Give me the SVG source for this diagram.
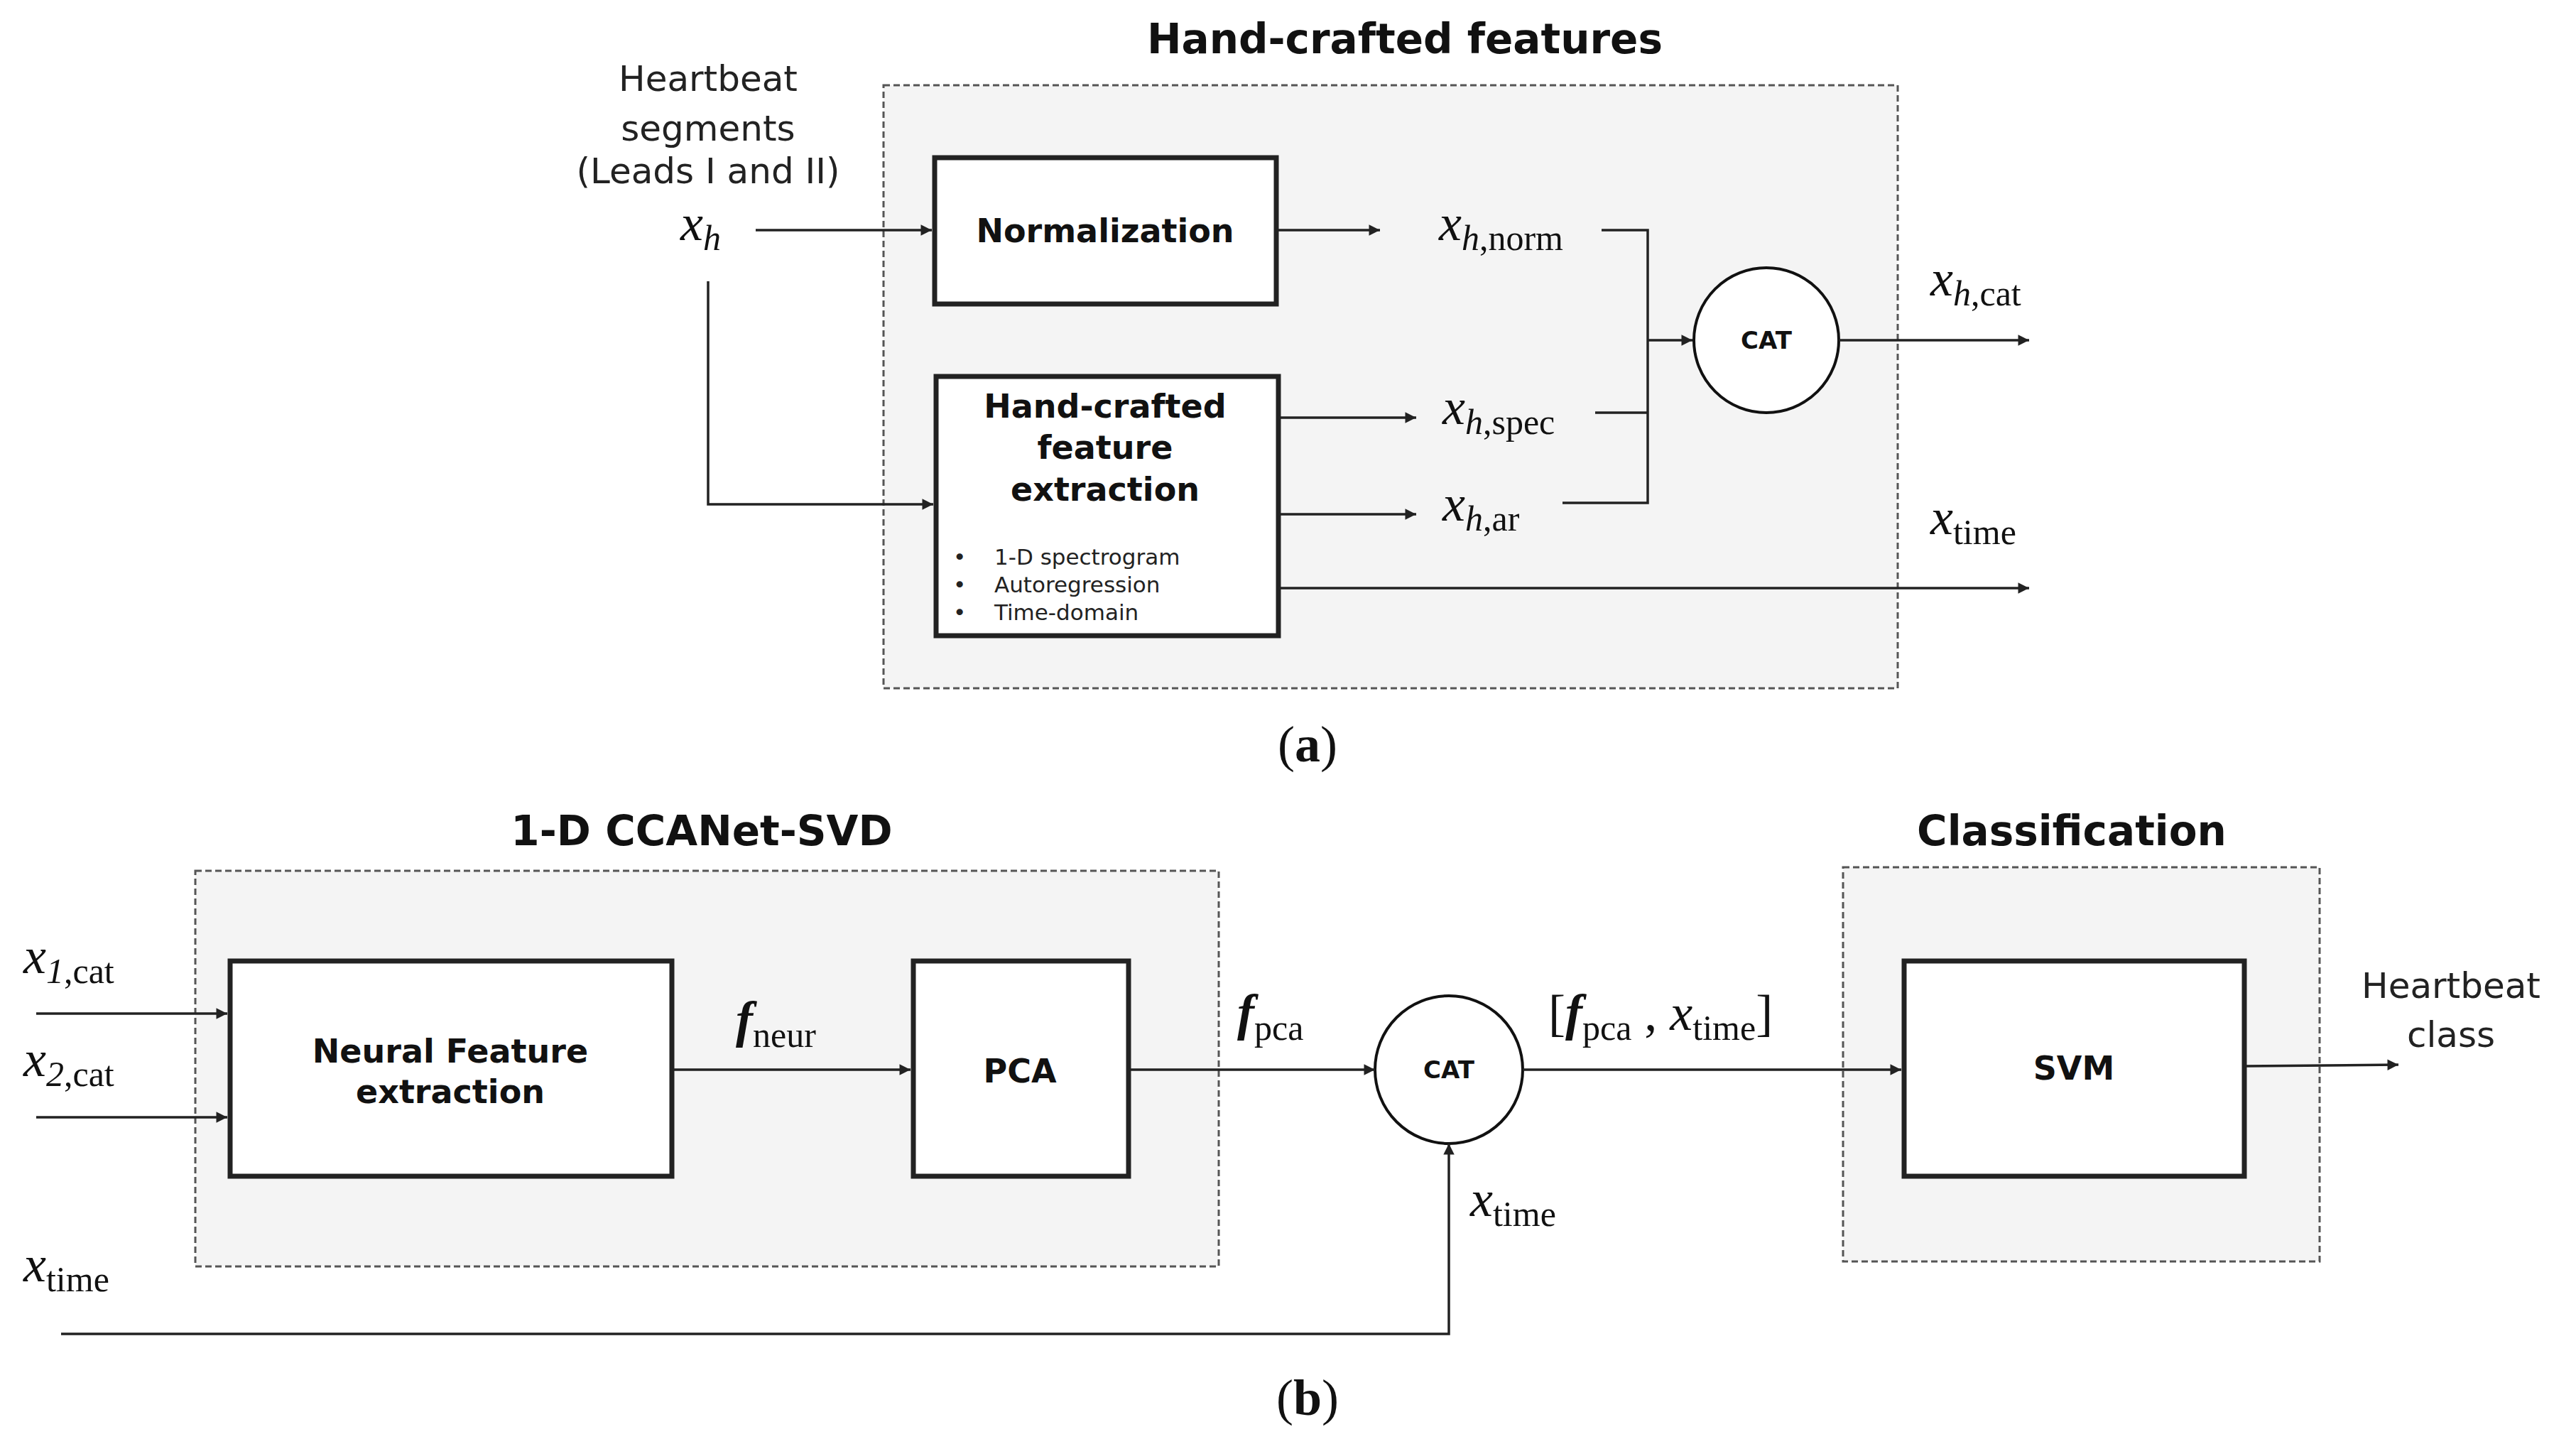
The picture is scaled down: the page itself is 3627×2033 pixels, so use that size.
<svg xmlns="http://www.w3.org/2000/svg" width="3627" height="2033" viewBox="0 0 3627 2033">
<style>
.grp{fill:#f4f4f4;stroke:#555;stroke-width:3;stroke-dasharray:9 5}
.box{fill:#fff;stroke:#222;stroke-width:7}
.circ{fill:#fff;stroke:#111;stroke-width:4}
.ln{fill:none;stroke:#222;stroke-width:3.5}
.ttl{font-family:"DejaVu Sans",sans-serif;font-weight:bold;font-size:58px;text-anchor:middle;fill:#111}
.bt{font-family:"DejaVu Sans",sans-serif;font-weight:bold;font-size:46px;text-anchor:middle;fill:#111}
.ct{font-family:"DejaVu Sans",sans-serif;font-weight:bold;font-size:34px;text-anchor:middle;fill:#111}
.lb{font-family:"DejaVu Sans",sans-serif;font-size:50px;text-anchor:middle;fill:#222}
.sm{font-family:"DejaVu Sans",sans-serif;font-size:31px;fill:#222}
.m{font-family:"Liberation Serif",serif;font-size:72px;fill:#111}
.mi{font-style:italic}
.sub{font-size:50px}
</style>
<defs>
<marker id="ar" viewBox="0 0 10 10" refX="10" refY="5" markerWidth="7" markerHeight="7" markerUnits="userSpaceOnUse" orient="auto" style="overflow:visible"><path d="M0,0 L10,5 L0,10 z" fill="#222" transform="scale(2.2) translate(-5.5,-2.7)"/></marker>
</defs>
<!-- (a) -->
<g id="group-handcrafted"><rect class="grp" x="1244" y="120" width="1428" height="849"/><text class="ttl" x="1978" y="75">Hand-crafted features</text></g>
<g id="input-a"><text class="lb" x="997" y="128">Heartbeat</text><text class="lb" x="997" y="198">segments</text><text class="lb" x="997" y="258">(Leads I and II)</text>
<text class="m" x="958" y="338"><tspan class="mi">x</tspan><tspan class="mi sub" dy="14">h</tspan></text></g>
<g id="normalization"><rect class="box" x="1316" y="222" width="481" height="206"/><text class="bt" x="1556" y="341">Normalization</text></g>
<g id="handcrafted-extraction"><rect class="box" x="1318" y="530" width="482" height="365"/>
<text class="bt" x="1556" y="588">Hand-crafted</text><text class="bt" x="1556" y="646">feature</text><text class="bt" x="1556" y="705">extraction</text>
<text class="sm" x="1342" y="795">•</text><text class="sm" x="1400" y="795">1-D spectrogram</text>
<text class="sm" x="1342" y="834">•</text><text class="sm" x="1400" y="834">Autoregression</text>
<text class="sm" x="1342" y="873">•</text><text class="sm" x="1400" y="873">Time-domain</text></g>
<g id="cat-a"><circle class="circ" cx="2487" cy="479" r="102"/><text class="ct" x="2487" y="491">CAT</text></g>
<g id="labels-a">
<text class="m" x="2026" y="338"><tspan class="mi">x</tspan><tspan class="sub" dy="14"><tspan class="mi">h</tspan>,norm</tspan></text>
<text class="m" x="2031" y="597"><tspan class="mi">x</tspan><tspan class="sub" dy="14"><tspan class="mi">h</tspan>,spec</tspan></text>
<text class="m" x="2031" y="733"><tspan class="mi">x</tspan><tspan class="sub" dy="14"><tspan class="mi">h</tspan>,ar</tspan></text>
<text class="m" x="2718" y="416"><tspan class="mi">x</tspan><tspan class="sub" dy="14"><tspan class="mi">h</tspan>,cat</tspan></text>
<text class="m" x="2718" y="752"><tspan class="mi">x</tspan><tspan class="sub" dy="14">time</tspan></text>
</g>
<!-- (b) -->
<g id="group-ccanet"><rect class="grp" x="275" y="1226" width="1441" height="557"/><text class="ttl" x="988" y="1190">1-D CCANet-SVD</text></g>
<g id="group-classification"><rect class="grp" x="2595" y="1221" width="671" height="555"/><text class="ttl" x="2917" y="1190">Classification</text></g>
<g id="neural"><rect class="box" x="324" y="1353" width="622" height="303"/><text class="bt" x="634" y="1496">Neural Feature</text><text class="bt" x="634" y="1553">extraction</text></g>
<g id="pca"><rect class="box" x="1286" y="1353" width="303" height="303"/><text class="bt" x="1436" y="1524">PCA</text></g>
<g id="svm"><rect class="box" x="2681" y="1353" width="479" height="303"/><text class="bt" x="2920" y="1520">SVM</text></g>
<g id="cat-b"><circle class="circ" cx="2040" cy="1506" r="104"/><text class="ct" x="2040" y="1518">CAT</text></g>
<g id="labels-b">
<text class="m" x="33" y="1370"><tspan class="mi">x</tspan><tspan class="sub" dy="14"><tspan class="mi">1</tspan>,cat</tspan></text>
<text class="m" x="33" y="1515"><tspan class="mi">x</tspan><tspan class="sub" dy="14"><tspan class="mi">2</tspan>,cat</tspan></text>
<text class="m" x="33" y="1804"><tspan class="mi">x</tspan><tspan class="sub" dy="14">time</tspan></text>
<text class="m" x="1036" y="1460"><tspan class="mi" font-weight="bold">f</tspan><tspan class="sub" dy="14">neur</tspan></text>
<text class="m" x="1742" y="1450"><tspan class="mi" font-weight="bold">f</tspan><tspan class="sub" dy="14">pca</tspan></text>
<text class="m" x="2180" y="1450">[<tspan class="mi" font-weight="bold">f</tspan><tspan class="sub" dy="14">pca</tspan><tspan dy="-14"> , </tspan><tspan class="mi">x</tspan><tspan class="sub" dy="14">time</tspan><tspan dy="-14">]</tspan></text>
<text class="m" x="2070" y="1712"><tspan class="mi">x</tspan><tspan class="sub" dy="14">time</tspan></text>
<text class="lb" x="3451" y="1405">Heartbeat</text><text class="lb" x="3451" y="1474">class</text>
</g>
<g id="captions"><text class="m" x="1841" y="1072" text-anchor="middle">(<tspan font-weight="bold">a</tspan>)</text><text class="m" x="1841" y="1992" text-anchor="middle">(<tspan font-weight="bold">b</tspan>)</text></g>
<g id="connectors">
<line class="ln" x1="1064" y1="324" x2="1312" y2="324" marker-end="url(#ar)"/>
<polyline class="ln" points="997,396 997,710 1314,710" marker-end="url(#ar)"/>
<line class="ln" x1="1800" y1="324" x2="1943" y2="324" marker-end="url(#ar)"/>
<polyline class="ln" points="2255,324 2320,324 2320,708 2200,708"/>
<line class="ln" x1="2246" y1="581" x2="2320" y2="581"/>
<line class="ln" x1="2320" y1="479" x2="2383" y2="479" stroke-width="5" marker-end="url(#ar)"/>
<line class="ln" x1="2589" y1="479" x2="2857" y2="479" marker-end="url(#ar)"/>
<line class="ln" x1="1803" y1="588" x2="1994" y2="588" marker-end="url(#ar)"/>
<line class="ln" x1="1803" y1="724" x2="1994" y2="724" marker-end="url(#ar)"/>
<line class="ln" x1="1803" y1="828" x2="2857" y2="828" marker-end="url(#ar)"/>
<line class="ln" x1="51" y1="1427" x2="320" y2="1427" marker-end="url(#ar)"/>
<line class="ln" x1="51" y1="1573" x2="320" y2="1573" marker-end="url(#ar)"/>
<line class="ln" x1="946" y1="1506" x2="1282" y2="1506" marker-end="url(#ar)"/>
<line class="ln" x1="1589" y1="1506" x2="1936" y2="1506" marker-end="url(#ar)"/>
<line class="ln" x1="2144" y1="1506" x2="2677" y2="1506" marker-end="url(#ar)"/>
<line class="ln" x1="3160" y1="1501" x2="3377" y2="1499" marker-end="url(#ar)"/>
<polyline class="ln" points="86,1878 2040,1878 2040,1610" marker-end="url(#ar)"/>
</g>
</svg>
